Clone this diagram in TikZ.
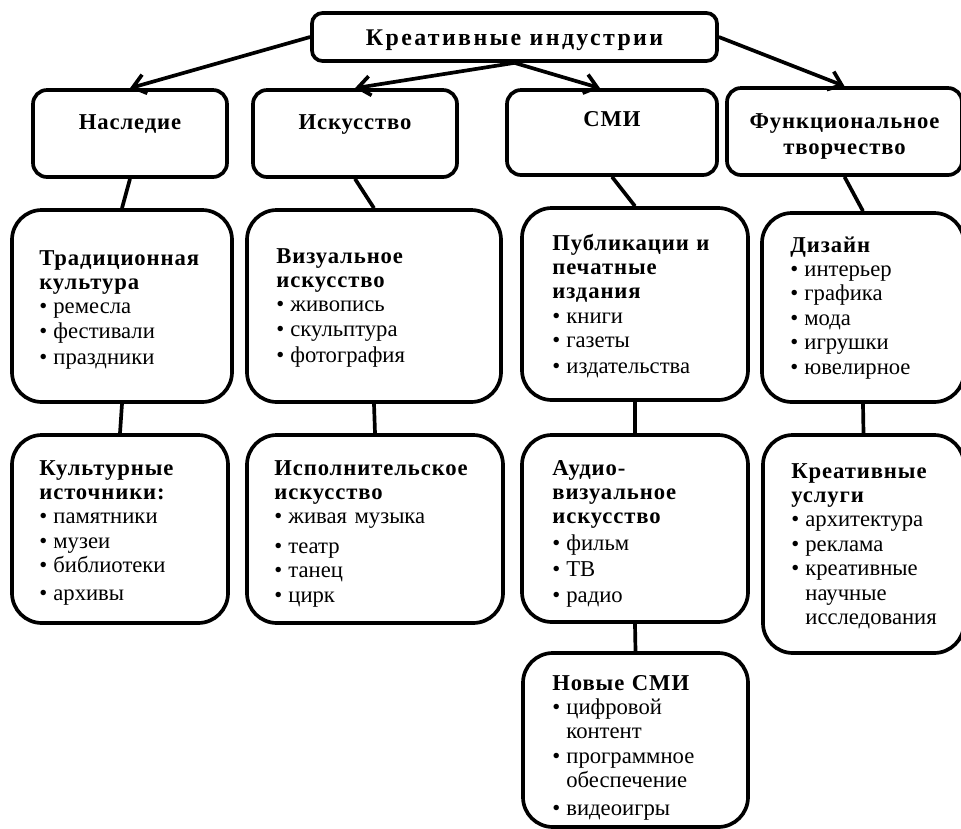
\documentclass[tikz,border=0pt]{standalone}
\usepackage{fontspec}
\setmainfont{Liberation Serif}
\usetikzlibrary{positioning}
\usetikzlibrary{arrows.meta}

\newcommand{\bul}{\makebox[0.62em][l]{\textbullet}}
\newcommand{\cnt}{\hspace*{0.62em}}
\newcommand{\hd}[1]{{\bfseries\addfontfeatures{LetterSpace=4}#1}}

\begin{document}
\begin{tikzpicture}[x=0.02cm, y=-0.02cm,
    >={Straight Barb[length=7pt,width=11pt]},
    sz/.style 2 args={minimum width=#1*0.02cm, minimum height=#2*0.02cm},
    topbox/.style={draw, line width=2.1pt, rounded corners=6pt, inner sep=0pt},
    headbox/.style={draw, line width=2.1pt, rounded corners=8pt, inner sep=0pt},
    listbox/.style={draw, line width=2.1pt, rounded corners=17pt, inner sep=0pt},
    titletext/.style={anchor=base, inner sep=0pt, font=\fontsize{13.6pt}{16pt}\selectfont\bfseries\addfontfeatures{LetterSpace=10}},
    headtext/.style={anchor=base, text width=230*0.02cm, align=center, inner sep=0pt, font=\fontsize{12.9pt}{15.3pt}\selectfont\bfseries\addfontfeatures{LetterSpace=4}},
    listtext/.style={anchor=base west, text width=225*0.02cm, align=left, inner sep=0pt, font=\fontsize{12.9pt}{13.9pt}\selectfont},
    link/.style={line width=2.1pt}]
    \useasboundingbox (0,0) rectangle (961,829);

    \node[topbox, sz={405}{48}] (ind) at (514.5,37) {};
    \node[titletext] (ind-t) at (514.5,45) {Креативные индустрии};

    \node[headbox, sz={194}{87}] (her) at (130,133.5) {};
    \node[headbox, sz={204}{87}] (art) at (355,133.5) {};
    \node[headbox, sz={210}{85}] (media) at (612,132.5) {};
    \node[headbox, sz={235}{87}] (func) at (844.5,131.5) {};
    \node[headtext] (her-t) at (130,129) {Наследие};
    \node[headtext] (art-t) at (355,129) {Искусство};
    \node[headtext] (media-t) at (612,126) {СМИ};
    \node[headtext] (func-t) at (844.5,128) {Функциональное\\творчество};

    \node[listbox, sz={220}{192}] (trad) at (122,306) {};
    \node[listbox, sz={254}{192}] (vis) at (374,306) {};
    \node[listbox, sz={226}{192}] (pub) at (635,304) {};
    \node[listbox, sz={202}{189}] (des) at (863,307.5) {};
    \node[listbox, sz={216}{188}] (cult) at (120,529) {};
    \node[listbox, sz={256}{188}] (perf) at (375,529) {};
    \node[listbox, sz={226}{187}] (av) at (635,528.5) {};
    \node[listbox, sz={201}{218}] (serv) at (863.5,544) {};
    \node[listbox, sz={225}{174}] (new) at (635.5,740) {};

    \node[listtext] (trad-t) at (39,265) {\hd{Традиционная}\\
        \hd{культура}\\
        \bul ремесла\\
        \bul фестивали\\[1pt]
        \bul праздники};
    \node[listtext] (vis-t) at (276,263) {\hd{Визуальное}\\
        \hd{искусство}\\
        \bul живопись\\
        \bul скульптура\\[1pt]
        \bul фотография};
    \node[listtext] (pub-t) at (552,250) {\hd{Публикации и}\\
        \hd{печатные}\\
        \hd{издания}\\
        \bul книги\\
        \bul газеты\\[1pt]
        \bul издательства};
    \node[listtext] (des-t) at (790,252) {\hd{Дизайн}\\
        \bul интерьер\\
        \bul графика\\
        \bul мода\\
        \bul игрушки\\
        \bul ювелирное};
    \node[listtext] (cult-t) at (39,475) {\hd{Культурные}\\
        \hd{источники:}\\
        \bul памятники\\
        \bul музеи\\
        \bul библиотеки\\[2pt]
        \bul архивы};
    \node[listtext] (perf-t) at (274,475) {\hd{Исполнительское}\\
        \hd{искусство}\\
        \bul живая музыка\\[3pt]
        \bul театр\\
        \bul танец\\
        \bul цирк};
    \node[listtext] (av-t) at (552,475) {\hd{Аудио-}\\
        \hd{визуальное}\\
        \hd{искусство}\\[1pt]
        \bul фильм\\[1pt]
        \bul ТВ\\[1pt]
        \bul радио};
    \node[listtext] (serv-t) at (791,478) {\hd{Креативные}\\
        \hd{услуги}\\
        \bul архитектура\\
        \bul реклама\\
        \bul креативные\\
        \cnt научные\\
        \cnt исследования};
    \node[listtext] (new-t) at (552,690) {\hd{Новые СМИ}\\
        \bul цифровой\\
        \cnt контент\\
        \bul программное\\
        \cnt обеспечение\\[2pt]
        \bul видеоигры};

    \draw[->, link] (ind.west) -- (her.north);
    \draw[->, link] (ind.south) -- (art.north);
    \draw[->, link] (ind.south) -- ([xshift=-0.24cm]media.north);
    \draw[->, link] (ind.east) -- (func.north);

    \draw[link] (her.south) -- (trad.north);
    \draw[link] (art.south) -- (vis.north);
    \draw[link] (media.south) -- (pub.north);
    \draw[link] (func.south) -- (des.north);
    \draw[link] (trad.south) -- (cult.north);
    \draw[link] (vis.south) -- (perf.north);
    \draw[link] (pub.south) -- (av.north);
    \draw[link] (des.south) -- (serv.north);
    \draw[link] (av.south) -- (new.north);
\end{tikzpicture}
\end{document}
